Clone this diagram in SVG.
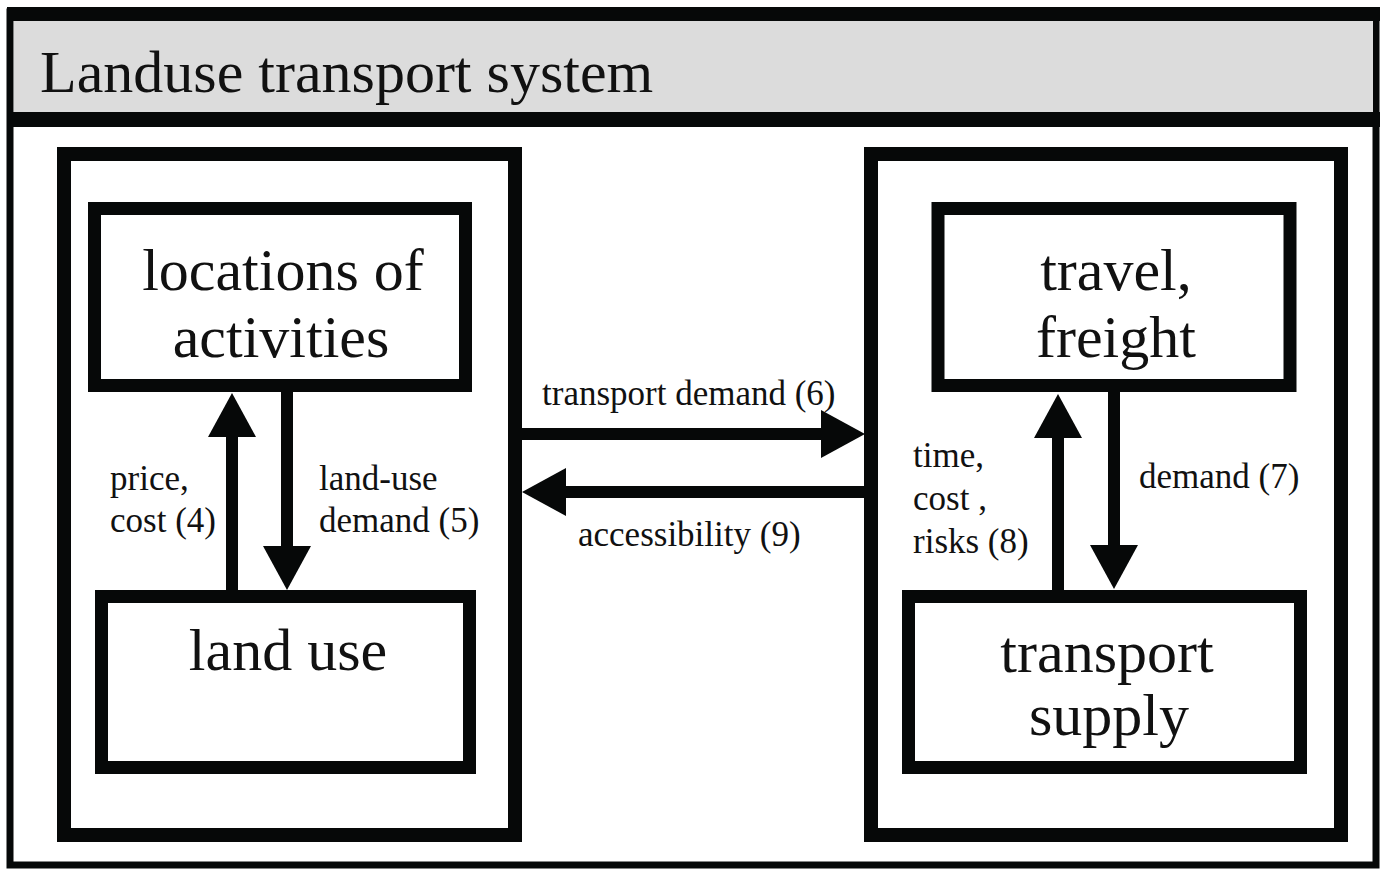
<svg xmlns="http://www.w3.org/2000/svg" width="1383" height="869" viewBox="0 0 1383 869">
<style>
.box{fill:#fff;stroke:#060808;stroke-width:14}
.inner{fill:#fff;stroke:#060808;stroke-width:13}
.big{font-family:"Liberation Serif","Times New Roman",serif;font-size:60px;fill:#111;text-anchor:middle}
.lbl{font-family:"Liberation Serif","Times New Roman",serif;font-size:35px;fill:#111}
.conn{stroke:#060808;stroke-width:12;fill:none}
</style>
<defs>
<marker id="ah" markerUnits="userSpaceOnUse" markerWidth="50" markerHeight="50" refX="4" refY="24" orient="auto" viewBox="0 0 50 50">
<path d="M0,0 L44,24 L0,48 Z" fill="#060808"/>
</marker>
</defs>
<rect width="1383" height="869" fill="#fff"/>
<g id="frame">
<rect x="10" y="12" width="1366" height="853" fill="#fff" stroke="#060808" stroke-width="7"/>
<rect x="7" y="7" width="1373" height="14" fill="#060808"/>
<rect x="14" y="21" width="1359" height="91" fill="#dcdcdc"/>
<rect x="7" y="112" width="1373" height="15" fill="#060808"/>
<text x="40" y="92" font-family="'Liberation Serif','Times New Roman',serif" font-size="60" fill="#111">Landuse transport system</text>
</g>
<g id="landuse-system">
<rect class="box" x="64" y="154" width="451" height="681"/>
</g>
<g id="transport-system">
<rect class="box" x="871" y="154" width="470" height="681"/>
</g>
<g id="locations">
<rect class="inner" x="94.5" y="208.5" width="371" height="177"/>
<text class="big" x="283" y="290">locations of</text>
<text class="big" x="281" y="357">activities</text>
</g>
<g id="landuse">
<rect class="inner" x="101.5" y="596.5" width="368" height="171"/>
<text class="big" x="288" y="670">land use</text>
</g>
<g id="travel">
<rect class="inner" x="938" y="208.5" width="352" height="177"/>
<text class="big" x="1116" y="290">travel,</text>
<text class="big" x="1116" y="357">freight</text>
</g>
<g id="supply">
<rect class="inner" x="908.5" y="596.5" width="392" height="171"/>
<text class="big" x="1107" y="672">transport</text>
<text class="big" x="1109" y="735">supply</text>
</g>
<g id="connectors">
<line class="conn" x1="232" y1="592" x2="232" y2="433" marker-end="url(#ah)"/>
<line class="conn" x1="287" y1="392" x2="287" y2="550" marker-end="url(#ah)"/>
<line class="conn" x1="522" y1="434" x2="825" y2="434" marker-end="url(#ah)"/>
<line class="conn" x1="865" y1="492" x2="562" y2="492" marker-end="url(#ah)"/>
<line class="conn" x1="1058" y1="592" x2="1058" y2="434" marker-end="url(#ah)"/>
<line class="conn" x1="1114" y1="392" x2="1114" y2="549" marker-end="url(#ah)"/>
<text class="lbl" x="110" y="490">price,</text>
<text class="lbl" x="110" y="532">cost (4)</text>
<text class="lbl" x="319" y="490">land-use</text>
<text class="lbl" x="319" y="532">demand (5)</text>
<text class="lbl" x="542" y="405">transport demand (6)</text>
<text class="lbl" x="578" y="546">accessibility (9)</text>
<text class="lbl" x="913" y="467">time,</text>
<text class="lbl" x="913" y="510">cost ,</text>
<text class="lbl" x="913" y="553">risks (8)</text>
<text class="lbl" x="1139" y="488">demand (7)</text>
</g>
</svg>
